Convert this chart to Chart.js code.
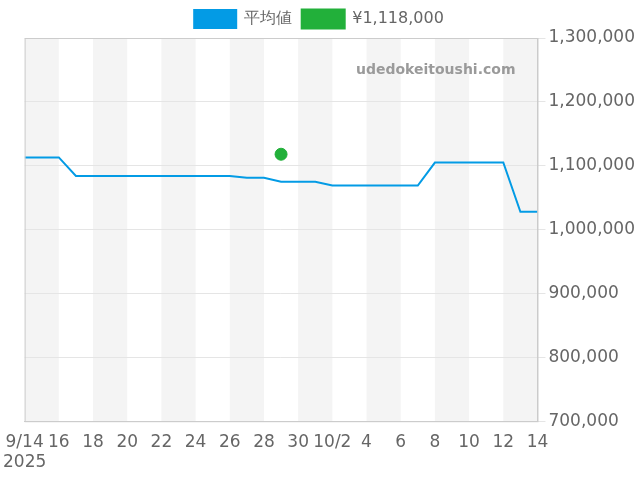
<!DOCTYPE html>
<html><head><meta charset="utf-8">
<script src="https://cdn.jsdelivr.net/npm/chart.js@4"></script>
<style>html,body{margin:0;padding:0;background:#fff}#w{width:640px;height:480px}</style>
</head><body><div id="w"><canvas id="c"></canvas></div>
<script>
const dates = ["9/14","9/15","9/16","9/17","9/18","9/19","9/20","9/21","9/22","9/23","9/24","9/25","9/26","9/27","9/28","9/29","9/30","10/1","10/2","10/3","10/4","10/5","10/6","10/7","10/8","10/9","10/10","10/11","10/12","10/13","10/14"];
const avgValues = [1113000,1113000,1113000,1084000,1084000,1084000,1084000,1084000,1084000,1084000,1084000,1084000,1084000,1081000,1081000,1075000,1075000,1075000,1069000,1069000,1069000,1069000,1069000,1069000,1105000,1105000,1105000,1105000,1105000,1028000,1028000];
const pointDate = "9/29";
const pointValue = 1118000;
const yTicks = [700000,800000,900000,1000000,1100000,1200000,1300000];

const bands = {id:'bands',beforeDraw(ch){
  const {ctx,chartArea:a,scales:{x}}=ch;ctx.save();ctx.fillStyle='#f4f4f4';
  for(let i=0;i<dates.length-1;i+=4){const l=x.getPixelForValue(i),r=x.getPixelForValue(Math.min(i+2,dates.length-1));ctx.fillRect(l,a.top,r-l,a.bottom-a.top);}
  ctx.restore();},
 afterDatasetsDraw(ch){const {ctx,chartArea:a}=ch;ctx.save();
  ctx.strokeStyle='#ccc';ctx.lineWidth=1;ctx.strokeRect(a.left+0.5,a.top+0.5,a.right-a.left,a.bottom-a.top);
  ctx.fillStyle='#9a9a9a';ctx.font='bold 14px "DejaVu Sans"';ctx.textAlign='right';ctx.fillText('udedokeitoushi.com',a.right-22,a.top+32);
  ctx.restore();}};

new Chart(document.getElementById('c'),{
  type:'line',
  data:{datasets:[
    {label:'平均値',data:avgValues.map((v,i)=>({x:i,y:v})),borderColor:'#039be5',backgroundColor:'#039be5',borderWidth:2,pointRadius:0,tension:0},
    {label:'¥1,118,000',data:[{x:dates.indexOf(pointDate),y:pointValue}],borderColor:'#22b03a',backgroundColor:'#22b03a',pointRadius:6,showLine:false}
  ]},
  options:{responsive:true,maintainAspectRatio:false,animation:false,
    layout:{padding:{left:0,right:2,bottom:4}},
    plugins:{legend:{labels:{boxWidth:42,boxHeight:18,font:{size:16,family:'"DejaVu Sans"'},color:'#666'}},tooltip:{enabled:false}},
    scales:{
      x:{type:'linear',min:0,max:dates.length-1,grid:{display:false},border:{color:'#ccc'},
        afterBuildTicks(s){s.ticks=[];for(let i=0;i<dates.length;i+=2)s.ticks.push({value:i});},
        ticks:{autoSkip:false,maxRotation:0,color:'#666',font:{size:17,family:'"DejaVu Sans"'},
          callback(v){const d=dates[v];if(v===0)return [d,'2025'];if(d.endsWith('/2')&&d!=='9/2')return d;return d.split('/')[1];}}},
      y:{position:'right',min:700000,max:1300000,border:{color:'#ccc'},grid:{color:'#e5e5e5'},
        afterBuildTicks(s){s.ticks=yTicks.map(v=>({value:v}));},
        ticks:{color:'#666',font:{size:17,family:'"DejaVu Sans"'},callback:v=>v.toLocaleString('en-US')}}
    }},
  plugins:[bands]
});
</script></body></html>
